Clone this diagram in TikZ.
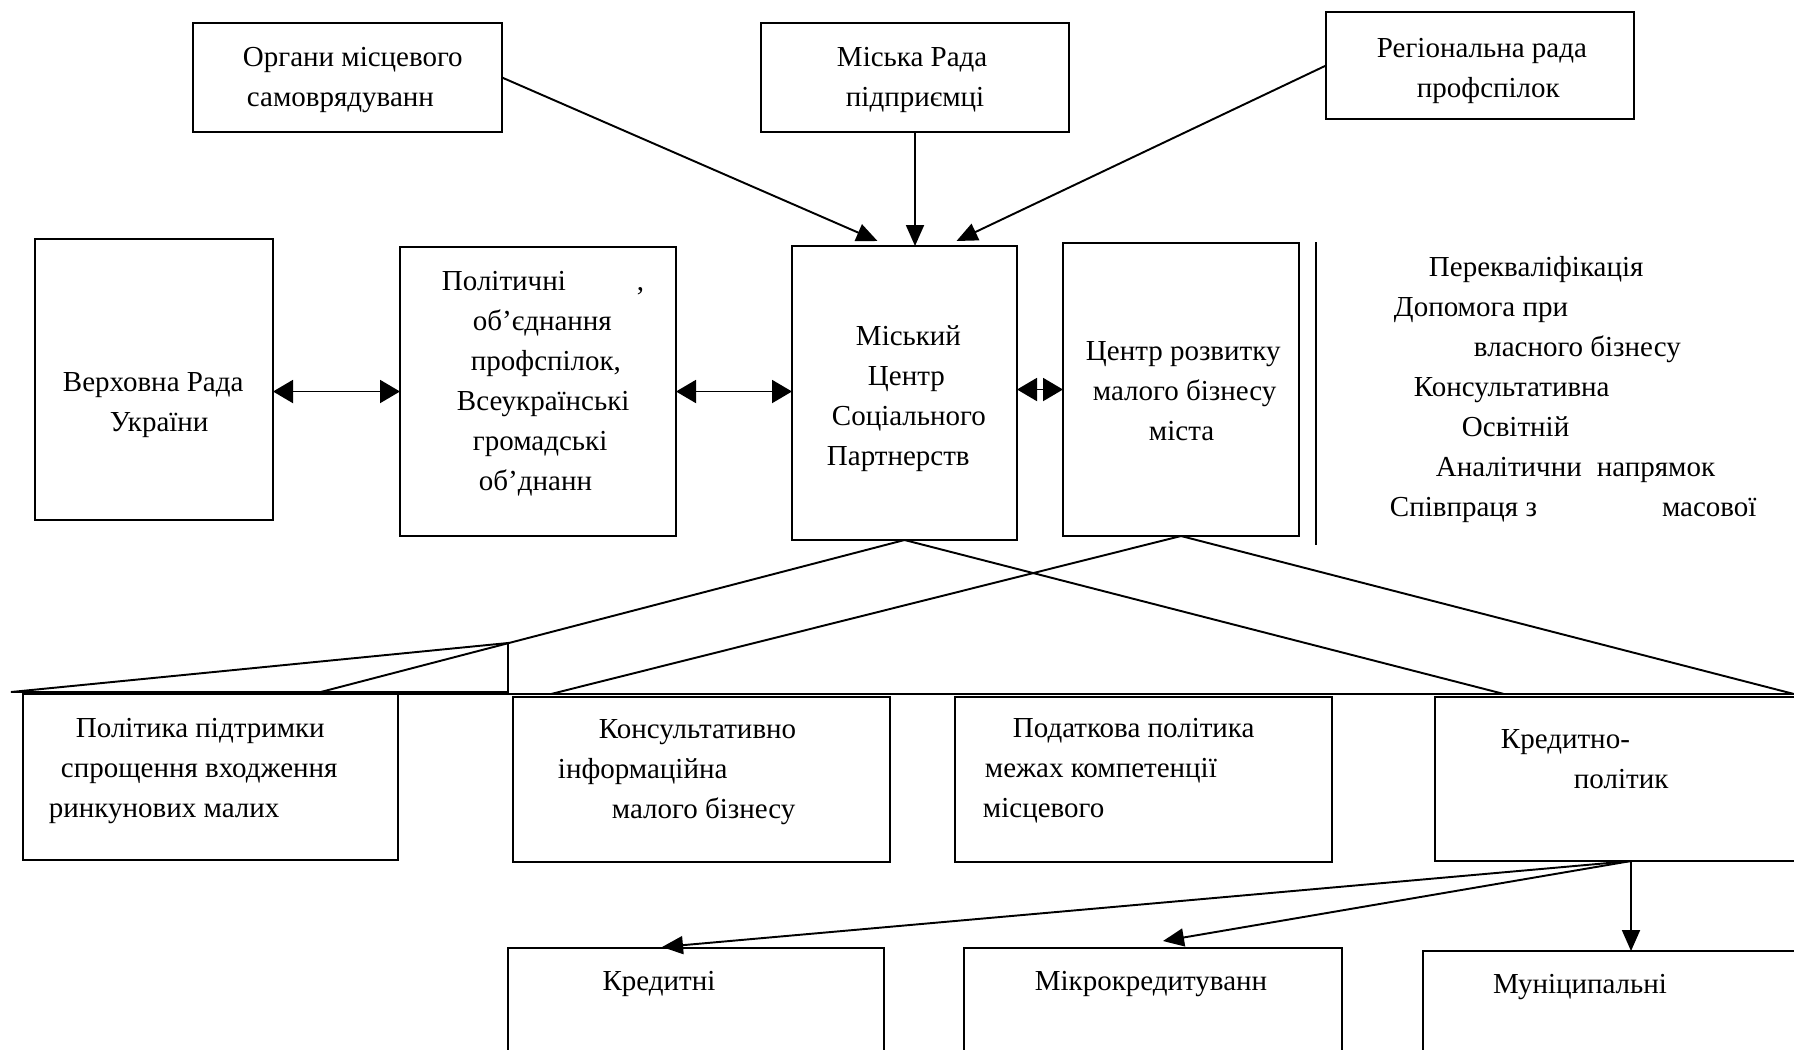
\documentclass[tikz,border=0pt]{standalone}
\usepackage{fontspec}
\setmainfont{Liberation Serif}
\usetikzlibrary{arrows.meta,fit,calc}
\newlength\pxu
\setlength\pxu{0.02cm}
\newcommand\ind[1]{\hspace*{#1\pxu}}

\begin{document}
\begin{tikzpicture}[x=0.02cm, y=-0.02cm, line width=1.1pt,
    blk/.style={draw, rectangle, inner sep=0pt, outer sep=0pt},
    txt/.style={align=left, inner sep=0pt, anchor=base west,
      font=\fontsize{16.5pt}{22.76pt}\selectfont},
    ctxt/.style={txt, anchor=base},
    arr/.style={-{Triangle[length=0.42cm,width=0.36cm]}},
    darr/.style={{Triangle[length=0.4cm,width=0.46cm]}-{Triangle[length=0.4cm,width=0.46cm]}}]
    \useasboundingbox (0,0) rectangle (1794,1049);
    \clip (0,0) rectangle (1794,1049);

    % top row (text nodes sit on the baseline of their last line)
    \node[blk, fit={(193,23) (502,132)}] (organy) {};
    \node[blk, fit={(761,23) (1069,132)}] (mrada) {};
    \node[blk, fit={(1326,12) (1634,119)}] (rrada) {};
    \node[txt] (organy-t) at (242,106) {Органи місцевого\\\ind{4}самоврядуванн};
    \node[txt] (mrada-t) at (836,106) {Міська Рада\\\ind{9}підприємці};
    \node[txt] (rrada-t) at (1376,97) {Регіональна рада\\\ind{40}профспілок};

    % middle row
    \node[blk, fit={(35,239) (273,520)}] (vrada) {};
    \node[blk, fit={(400,247) (676,536)}] (polit) {};
    \node[blk, fit={(792,246) (1017,540)}] (mcsp) {};
    \node[blk, fit={(1063,243) (1299,536)}] (crmb) {};
    \node[txt] (vrada-t) at (62,431) {Верховна Рада\\\ind{47}України};
    \node[txt] (polit-t) at (441,490) {Політичні\hspace{71\pxu},\\\ind{31}об’єднання\\\ind{29}профспілок,\\
      \ind{15}Всеукраїнські\\\ind{31}громадські\\\ind{37}об’днанн};
    \node[txt] (mcsp-t) at (826,465) {\ind{29}Міський\\\ind{41}Центр\\\ind{5}Соціального\\Партнерств};
    \node[txt] (crmb-t) at (1085,440) {Центр розвитку\\\ind{7}малого бізнесу\\\ind{63}міста};

    \coordinate (sep-t) at (1316,242);
    \coordinate (sep-b) at (1316,545);
    \draw (sep-t) -- (sep-b);
    \node[txt] (napr-t) at (1389,516) {\ind{39}Перекваліфікація\\\ind{4}Допомога при\\\ind{84}власного бізнесу\\
      \ind{24}Консультативна\\\ind{72}Освітній\\\ind{46}Аналітични\hspace{15\pxu}напрямок\\
      Співпраця з\hspace{125\pxu}масової};

    % policy row
    \node[blk, fit={(23,694) (398,860)}] (polt) {};
    \node[blk, fit={(513,697) (890,862)}] (kons) {};
    \node[blk, fit={(955,697) (1332,862)}] (podat) {};
    \node[blk, fit={(1435,697) (1827,861)}] (krpol) {};
    \node[txt] (polt-t) at (48,817) {\ind{27}Політика підтримки\\\ind{12}спрощення входження\\ринкунових малих};
    \node[txt] (kons-t) at (557,818) {\ind{41}Консультативно\\інформаційна\\\ind{54}малого бізнесу};
    \node[txt] (podat-t) at (982,817) {\ind{30}Податкова політика\\\ind{2}межах компетенції\\місцевого};
    \node[txt] (krpol-t) at (1500,788) {Кредитно-\\\ind{73}політик};

    % credit row
    \node[blk, fit={(508,948) (884,1080)}] (kred) {};
    \node[blk, fit={(964,948) (1342,1080)}] (mikro) {};
    \node[blk, fit={(1423,951) (1839,1080)}] (munic) {};
    \node[ctxt] (kred-t) at (659,990) {Кредитні};
    \node[ctxt] (mikro-t) at (1151,990) {Мікрокредитуванн};
    \node[ctxt] (munic-t) at (1580,993) {Муніципальні};

    % arrows
    \draw[arr] (organy.east) -- ($(mcsp.north)+(-27,-5)$);
    \draw[arr] (mrada.south) -- (mrada.south |- mcsp.north);
    \draw[arr] (rrada.west) -- ($(mcsp.north)+(52,-5)$);
    \draw[darr] (vrada.east |- polit.west) -- (polit.west);
    \draw[darr] (polit.east) -- (polit.east -| mcsp.west);
    \draw[darr] (crmb.west -| mcsp.east) -- (crmb.west);

    % links down to the bar
    \coordinate (bar-l) at (313,694);
    \coordinate (bar-k) at (551,694);
    \coordinate (bar-m) at (1504,694);
    \coordinate (bar-r) at (1794,694);
    \draw (bar-l) -- (bar-r);
    \draw (mcsp.south) -- (bar-l);
    \draw (mcsp.south) -- (bar-m);
    \draw (crmb.south) -- (bar-k);
    \draw (crmb.south) -- (bar-r);
    \coordinate (tri-a) at (11,692);
    \coordinate (tri-b) at (508,643);
    \coordinate (tri-c) at (508,692);
    \draw (tri-a) -- (tri-b) -- (tri-c) -- cycle;

    \draw[arr] (krpol.south) -- ($(kred.north)+(-34,-1)$);
    \draw[arr] (krpol.south) -- ($(mikro.north)+(10,-7)$);
    \draw[arr] (krpol.south) -- (munic.north);
\end{tikzpicture}
\end{document}
